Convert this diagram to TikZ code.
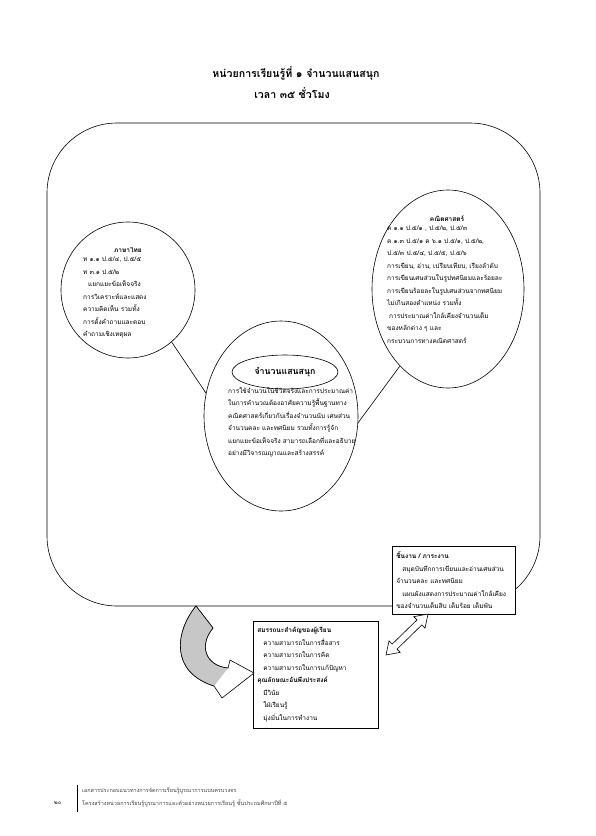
\documentclass[tikz,border=0pt]{standalone}
\usepackage{fontspec}
\newfontfamily\thai[Script=Thai]{Loma}
\usetikzlibrary{shapes.geometric}
\begin{document}
\begin{tikzpicture}[x=1pt,y=-1pt,
  every node/.style={font=\thai\fontsize{6.5}{12.5}\selectfont, inner sep=0pt},
  oval/.style={draw, ellipse, line width=0.6pt},
  bodytxt/.style={align=left, anchor=north west},
  headtxt/.style={font=\thai\bfseries\fontsize{6.5}{12.5}\selectfont},
  titletxt/.style={font=\thai\bfseries\fontsize{10.6}{12}\selectfont},
  infobox/.style={draw, line width=0.6pt, fill=white, anchor=north west, align=left, inner sep=4pt},
  foot/.style={font=\thai\fontsize{5.5}{12}\selectfont, anchor=west, text=black!75}]
\useasboundingbox (0,0) rectangle (595,836);

% title
\node[titletxt] (title) at (296,73) {หน่วยการเรียนรู้ที่ ๑ จำนวนแสนสนุก};
\node[titletxt] (time) at (292,93) {เวลา  ๓๕ ชั่วโมง};

% frame
\node[draw, line width=0.6pt, rounded corners=70pt, minimum width=493pt, minimum height=483pt] (frame) at (293.5,364.5) {};

% ovals
\node[oval, minimum width=134pt, minimum height=136pt] (thaiov) at (128,290) {};
\node[oval, minimum width=152pt, minimum height=198pt] (mathov) at (448,289) {};
\node[oval, minimum width=154pt, minimum height=190pt] (core) at (281,416) {};
\node[oval, fill=white, minimum width=106pt, minimum height=34pt, font=\thai\bfseries\fontsize{8.8}{12}\selectfont] (topic) at (285,372) {จำนวนแสนสนุก};

\draw[line width=0.6pt] (thaiov.-50) -- (core.163);
\draw[line width=0.6pt] (core.-5) -- (mathov.238);

% left oval text
\node[headtxt] (thaihead) at (128,250) {ภาษาไทย};
\node[bodytxt] (thaibody) at (83,257) {ท ๑.๑ ป.๕/๔, ป.๕/๕\\
ท ๓.๑ ป.๕/๒\\
\hspace*{5pt}แยกแยะข้อเท็จจริง\\
การวิเคราะห์และแสดง\\
ความคิดเห็น รวมทั้ง\\
การตั้งคำถามและตอบ\\
คำถามเชิงเหตุผล};

% right oval text
\node[headtxt] (mathhead) at (447,219) {คณิตศาสตร์};
\node[bodytxt] (mathbody) at (387,226) {ค ๑.๑ ป.๕/๑ , ป.๕/๒, ป.๕/๓\\
ค ๑.๓ ป.๕/๑ ค ๖.๑ ป.๕/๑, ป.๕/๒,\\
ป.๕/๓ ป.๕/๔, ป.๕/๕, ป.๕/๖\\
การเขียน, อ่าน, เปรียบเทียบ, เรียงลำดับ\\
การเขียนเศษส่วนในรูปทศนิยมและร้อยละ\\
การเขียนร้อยละในรูปเศษส่วนจากทศนิยม\\
ไม่เกินสองตำแหน่ง รวมทั้ง\\
\hspace*{2pt}การประมาณค่าใกล้เคียงจำนวนเต็ม\\
ของหลักต่าง ๆ และ\\
กระบวนการทางคณิตศาสตร์};

% core text
\node[bodytxt] (corebody) at (228,387) {การใช้จำนวนในชีวิตจริงและการประมาณค่า\\
ในการคำนวณต้องอาศัยความรู้พื้นฐานทาง\\
คณิตศาสตร์เกี่ยวกับเรื่องจำนวนนับ เศษส่วน\\
จำนวนคละ และทศนิยม รวมทั้งการรู้จัก\\
แยกแยะข้อเท็จจริง สามารถเลือกที่และอธิบาย\\
อย่างมีวิจารณญาณและสร้างสรรค์};

% work box
\node[infobox, minimum width=123pt, minimum height=68pt, text width=115pt] (work) at (392,546) {{\bfseries ชิ้นงาน / ภาระงาน}\\
\hspace*{6pt}สมุดบันทึกการเขียนและอ่านเศษส่วน\\
จำนวนคละ และทศนิยม\\
\hspace*{6pt}แผนผังแสดงการประมาณค่าใกล้เคียง\\
ของจำนวนเต็มสิบ เต็มร้อย เต็มพัน};

% competency box
\node[infobox, minimum width=125pt, minimum height=107pt, text width=117pt] (comp) at (253,621) {{\bfseries สมรรถนะสำคัญของผู้เรียน}\\
\hspace*{6pt}ความสามารถในการสื่อสาร\\
\hspace*{6pt}ความสามารถในการคิด\\
\hspace*{6pt}ความสามารถในการแก้ปัญหา\\
{\bfseries คุณลักษณะอันพึงประสงค์}\\
\hspace*{6pt}มีวินัย\\
\hspace*{6pt}ใฝ่เรียนรู้\\
\hspace*{6pt}มุ่งมั่นในการทำงาน};

% curved arrow (frame -> competency box)
\draw[line width=0.6pt, fill=white] (214,686) -- (222,698) -- (254,673) -- (230,660) -- (228,668)
  .. controls (206,666) and (198,646) .. (213,628) -- (196,606)
  .. controls (175,632) and (170,672) .. (214,686);
\fill[black!22] (196,606) .. controls (175,632) and (170,672) .. (214,686)
  -- (228,668) .. controls (206,666) and (198,646) .. (213,628) -- cycle;
\draw[line width=0.6pt] (196,606) .. controls (175,632) and (170,672) .. (214,686);
\draw[line width=0.6pt] (228,668) .. controls (206,666) and (198,646) .. (213,628) -- (196,606);

% double arrow (competency <-> work)
\begin{scope}[shift={(386,655)}, rotate=44.3]
\draw[line width=0.6pt, fill=white] (0,0) -- (12,8) -- (12,3.5) -- (46.7,3.5) -- (46.7,8) -- (58.7,0)
  -- (46.7,-8) -- (46.7,-3.5) -- (12,-3.5) -- (12,-8) -- cycle;
\end{scope}

% footer
\draw[line width=1pt] (77,785) -- (77,812);
\node[foot] (foot1) at (82,791) {เอกสารประกอบแนวทางการจัดการเรียนรู้บูรณาการแบบครบวงจร};
\node[foot] (foot2) at (82,803) {โครงสร้างหน่วยการเรียนรู้บูรณาการและตัวอย่างหน่วยการเรียนรู้ ชั้นประถมศึกษาปีที่ ๕};
\node[foot, text=black] (page) at (54,803) {๒๐};
\end{tikzpicture}
\end{document}
